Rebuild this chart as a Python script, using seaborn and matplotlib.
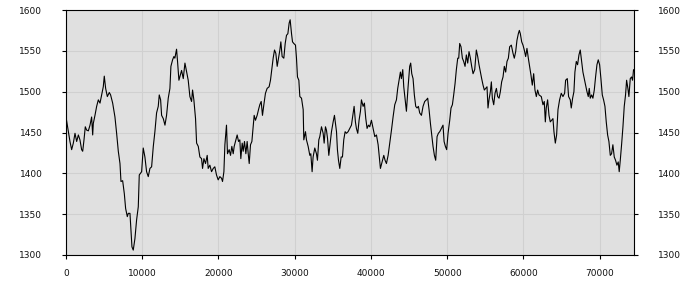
import matplotlib
matplotlib.use("Agg")
import matplotlib.pyplot as plt
import seaborn as sns
import pandas as pd

x_pos = [0, 310, 520, 740, 960, 1180, 1400, 1620, 1830, 2050, 2190, 2360, 2530, 2700, 2930, 3150, 3360, 3500, 3580,
         3800, 4020, 4240, 4460, 4670, 4890, 5020, 5200, 5420, 5680, 5850, 6120, 6420, 6640, 6860, 7080, 7210, 7430,
         7650, 7820, 8040, 8170, 8390, 8520, 8650, 8820, 9040, 9260, 9480, 9610, 9920, 10130, 10350, 10570, 10790,
         11010, 11230, 11450, 11660, 11880, 12100, 12230, 12410, 12540, 12760, 12980, 13190, 13410, 13630, 13760,
         13980, 14150, 14280, 14500, 14630, 14810,
         15160, 15380, 15600, 15820, 16030, 16250, 16470, 16600, 16770, 16990, 17130, 17350, 17560, 17780, 17910,
         18090, 18300, 18520, 18650, 18870, 19090, 19310, 19520, 19740, 19960, 20180, 20400, 20530, 20710, 20840,
         21050, 21180, 21400, 21580, 21750, 21930, 22060, 22280, 22450, 22630, 22800, 22930, 23110, 23240, 23410,
         23590, 23760, 23900, 24030, 24200, 24380, 24550, 24680, 24850, 25070, 25250, 25420, 25600, 25770, 25950,
         26160, 26380, 26640, 26820, 26990, 27170, 27350, 27520, 27700, 27870, 28050, 28180, 28350, 28570, 28750,
         28920, 29100, 29270, 29400, 29580, 29710, 29880, 30100, 30230, 30360, 30540, 30670, 30890, 31110,
         31190, 31410, 31540, 31760, 31980, 32110, 32280, 32410, 32630, 32850, 32980, 33160, 33290, 33510, 33730,
         33860, 34030, 34160, 34300, 34470, 34600, 34820, 35040, 35210, 35340, 35480, 35600, 35740, 35910, 36090,
         36260, 36430, 36610, 36780, 37000, 37220, 37440, 37660, 37790, 37960, 38090, 38270, 38440, 38620, 38750,
         38970, 39140, 39320, 39490, 39670, 39840, 40060, 40280, 40500, 40720, 40940, 41070, 41240, 41460, 41680,
         41850, 42030, 42250, 42470, 42690, 42900, 43120, 43340, 43510, 43690, 43860, 43990, 44170, 44300, 44470,
         44650, 44870, 45080, 45210, 45350, 45520, 45690, 45870, 46040, 46220, 46390,
         46620, 46830, 47050, 47270, 47440, 47620, 47800, 47970, 48140, 48320, 48490, 48670, 48840, 49020, 49240,
         49450, 49590, 49760, 49930, 50110, 50330, 50500, 50680, 50850, 51030, 51200, 51380, 51510, 51640, 51810,
         51990, 52160, 52340, 52510, 52690, 52860, 53040, 53210, 53390, 53610, 53820, 54000, 54170, 54350, 54520,
         54700, 54870, 55050, 55220, 55350, 55480, 55660, 55790, 55920, 56100, 56270, 56450, 56620, 56800, 56970,
         57140, 57320, 57490, 57670, 57840, 58020, 58190, 58410, 58630, 58800, 58980, 59150, 59330, 59460, 59590,
         59770, 59940, 60110, 60290, 60460, 60640, 60810, 60990, 61160, 61340, 61510, 61690, 61860, 62040,
         62340, 62560, 62730, 62870, 62990, 63170, 63350, 63520, 63700, 63870, 64000, 64180, 64350, 64530, 64740,
         64960, 65180, 65400, 65530, 65750, 65920, 66140, 66270, 66450, 66620, 66750, 66930, 67100, 67280, 67450,
         67630, 67800, 67980, 68150, 68330, 68500, 68630, 68760, 68940, 69110, 69290, 69460, 69640, 69810, 69990,
         70160, 70340, 70510, 70690, 70860, 71040, 71210, 71390, 71560, 71730, 71910, 72080, 72260, 72430, 72560,
         72700, 72870, 73050, 73220, 73390, 73530, 73700, 73830, 74010, 74180, 74310, 74440]

values = [1469, 1451, 1439, 1429, 1437, 1449, 1439, 1447, 1441, 1429, 1427, 1441, 1457, 1453, 1452, 1459, 1469, 1447, 1461,
          1471, 1482, 1490, 1486, 1496, 1506, 1519, 1504, 1494, 1499, 1496, 1486, 1469, 1449, 1427, 1412, 1390, 1391,
          1375, 1357, 1347, 1351, 1351, 1331, 1310, 1306, 1320, 1343, 1359, 1398, 1402, 1431, 1420, 1402, 1396,
          1406, 1408, 1433, 1451, 1474, 1482, 1496, 1490, 1471, 1467, 1459, 1471, 1492, 1504, 1531,
          1539, 1543, 1541, 1552, 1537, 1514,
          1526, 1516, 1535, 1524, 1514, 1494, 1488, 1502, 1490, 1467, 1437, 1433, 1420, 1418, 1406,
          1418, 1412, 1422, 1406, 1410, 1402, 1406, 1408, 1398, 1392, 1396, 1394, 1390, 1402, 1435,
          1459, 1424, 1429, 1422, 1433, 1424, 1433, 1441, 1447, 1439, 1441, 1418, 1437, 1427, 1439,
          1424, 1439, 1424, 1412, 1435, 1439, 1457, 1471, 1465, 1471, 1478, 1484, 1488, 1471, 1484,
          1498, 1504, 1506, 1514, 1527, 1541, 1551, 1547, 1531, 1541, 1551, 1561, 1543, 1541, 1559,
          1569, 1571, 1584, 1588, 1571, 1561, 1559, 1557, 1541, 1518, 1514, 1494, 1492, 1478,
          1441, 1451, 1441, 1433, 1422, 1424, 1402, 1420, 1431, 1424, 1416, 1441, 1445, 1457, 1449,
          1437, 1457, 1453, 1443, 1422, 1433, 1451, 1463, 1471, 1461, 1451, 1429, 1416, 1406, 1420,
          1420, 1441, 1451, 1449, 1451, 1455, 1459, 1474, 1482, 1463, 1455, 1449, 1465, 1476, 1490,
          1482, 1486, 1467, 1455, 1459, 1457, 1465, 1455, 1445, 1447, 1435, 1422, 1406, 1414, 1422,
          1416, 1412, 1422, 1437, 1453, 1469, 1484, 1490, 1504, 1514, 1524, 1516, 1527, 1506, 1492,
          1476, 1506, 1531, 1535, 1522, 1516, 1496, 1482, 1480, 1482, 1474,
          1471, 1482, 1488, 1490, 1492, 1478, 1461, 1447, 1433, 1422, 1416, 1445, 1449, 1451, 1455,
          1459, 1439, 1433, 1429, 1449, 1465, 1480, 1484, 1496, 1510, 1527, 1541, 1541, 1559, 1555,
          1541, 1537, 1531, 1545, 1535, 1549, 1541, 1531, 1522, 1527, 1551, 1543, 1533, 1524, 1516,
          1508, 1502, 1504, 1506, 1480, 1490, 1500, 1512, 1492, 1484, 1498, 1504, 1494, 1492, 1500,
          1512, 1518, 1531, 1524, 1537, 1541, 1555, 1557, 1547, 1541, 1549, 1563, 1571, 1575, 1571,
          1561, 1557, 1551, 1543, 1553, 1541, 1531, 1520, 1508, 1522, 1502, 1494, 1502, 1496,
          1494, 1484, 1488, 1463, 1480, 1490, 1471, 1463, 1465, 1467, 1451, 1437, 1447, 1478, 1490,
          1498, 1494, 1498, 1514, 1516, 1494, 1490, 1480, 1492, 1500, 1524, 1537, 1533, 1545, 1551,
          1537, 1524, 1516, 1508, 1500, 1494, 1504, 1492, 1496, 1492, 1502, 1518, 1533, 1539, 1533,
          1516, 1496, 1490, 1482, 1463, 1447, 1439, 1422, 1424, 1435, 1420, 1416, 1410, 1414, 1402,
          1416, 1435, 1457, 1482, 1496, 1514, 1504, 1494, 1516, 1518, 1514, 1527]

x_ticks = [0, 10000, 20000, 30000, 40000, 50000, 60000, 70000]
y_ticks = [1300, 1350, 1400, 1450, 1500, 1550, 1600]

sns.set_style("white", {
    "axes.facecolor": "#e0e0e0",
    "axes.edgecolor": "black",
    "grid.color": "#d0d0d0",
    "axes.grid": True,
})
plt.rcParams["font.family"] = ["DejaVu Sans"]

df = pd.DataFrame({"x": x_pos, "v": values})

fig = plt.figure(figsize=(7, 3), dpi=100)
ax = fig.add_axes([66 / 700, 1 - 255 / 300, (634 - 66) / 700, (255 - 10) / 300])
sns.lineplot(data=df, x="x", y="v", ax=ax, color="black", linewidth=0.8)

ax.set_xlim(0, 74500)
ax.set_ylim(1300, 1600)
ax.set_xticks(x_ticks)
ax.set_yticks(y_ticks)
ax.set_xticklabels([str(t) for t in x_ticks])
ax.set_yticklabels([str(t) for t in y_ticks])
ax.set_xlabel("")
ax.set_ylabel("")
ax.grid(True, color="#d0d0d0", linewidth=0.8)
ax.set_axisbelow(True)
for s in ax.spines.values():
    s.set_color("black")
    s.set_linewidth(0.8)
ax.tick_params(axis="y", left=True, right=True, labelleft=True, labelright=True,
               length=3, width=0.8, pad=14, labelsize=6.5, colors="black", labelcolor="#111111")
ax.tick_params(axis="x", bottom=True, length=3, width=0.8, pad=7, labelsize=6.5,
               colors="black", labelcolor="#111111")

fig.savefig("out.png", dpi=100, facecolor="white")
